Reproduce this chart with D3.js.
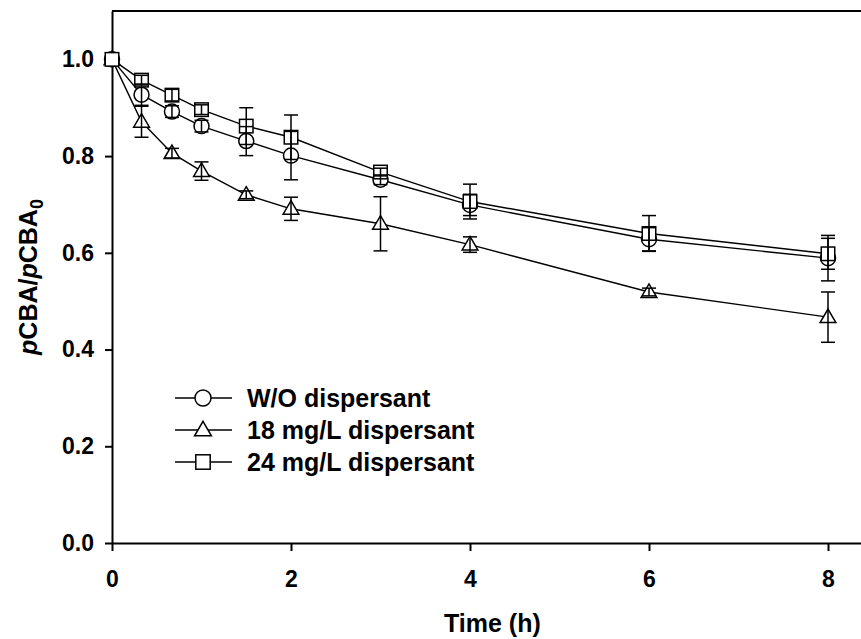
<!DOCTYPE html>
<html>
<head>
<meta charset="utf-8">
<script src="https://cdn.jsdelivr.net/npm/d3@7"></script>
<style>
  body { margin: 0; background: #fff; }
  svg { display: block; font-family: "Liberation Sans", Arial, sans-serif; }
  .axis text { font-size: 23px; font-weight: bold; fill: #000; }
  .axis path, .axis line { stroke: #000; stroke-width: 2px; }
</style>
</head>
<body>
<div id="chart"></div>
<script>
// time points (h)
var times = [0, 0.33, 0.67, 1, 1.5, 2, 3, 4, 6, 8];

// pCBA/pCBA0 per series, with error bar half widths
var woValues  = [1.0, 0.927, 0.892, 0.862, 0.831, 0.801, 0.751, 0.699, 0.628, 0.589];
var woErrors  = [0.0, 0.022, 0.012, 0.012, 0.030, 0.050, 0.010, 0.022, 0.024, 0.047];
var m18Values = [1.0, 0.871, 0.806, 0.769, 0.720, 0.691, 0.660, 0.617, 0.519, 0.467];
var m18Errors = [0.0, 0.032, 0.010, 0.019, 0.008, 0.024, 0.056, 0.016, 0.008, 0.052];
var m24Values = [1.0, 0.957, 0.926, 0.896, 0.862, 0.839, 0.767, 0.706, 0.640, 0.598];
var m24Errors = [0.0, 0.010, 0.012, 0.010, 0.038, 0.046, 0.008, 0.036, 0.037, 0.032];

var seriesNames = ["W/O dispersant", "18 mg/L dispersant", "24 mg/L dispersant"];
var seriesSymbols = ["circle", "triangle", "square"];

var xTicks = [0, 2, 4, 6, 8];
var yTicks = [0, 0.2, 0.4, 0.6, 0.8, 1.0];

var width = 861, height = 639;
var margin = {top: 11, left: 112, bottom: 96};

var svg = d3.select("#chart").append("svg")
    .attr("width", width)
    .attr("height", height);

//scale functions
var xScale = d3.scaleLinear()
    .domain([0, 8.5])
    .range([margin.left, margin.left + 8.5 * 89.5]);
var yScale = d3.scaleLinear()
    .domain([0, 1.1])
    .range([height - margin.bottom, margin.top]);

// frame (top and right), axes on left and bottom
svg.append("path")
    .attr("d", "M" + xScale(0) + "," + yScale(1.1) + " H" + xScale(8.5) + " V" + yScale(0))
    .attr("fill", "none")
    .attr("stroke", "#000")
    .attr("stroke-width", 2);

var xAxis = d3.axisBottom(xScale).tickValues(xTicks).tickSize(8).tickPadding(20).tickSizeOuter(0);
var yAxis = d3.axisLeft(yScale).tickValues(yTicks).tickSize(7).tickPadding(11).tickSizeOuter(0)
    .tickFormat(d3.format(".1f"));

svg.append("g")
    .attr("class", "axis")
    .attr("transform", "translate(0," + yScale(0) + ")")
    .call(xAxis);
svg.append("g")
    .attr("class", "axis")
    .attr("transform", "translate(" + xScale(0) + ",0)")
    .call(yAxis);

// axis titles
svg.append("text")
    .attr("x", (xScale(0) + xScale(8.5)) / 2)
    .attr("y", 632)
    .attr("text-anchor", "middle")
    .attr("font-size", 25)
    .attr("font-weight", "bold")
    .text("Time (h)");

var yTitle = svg.append("text")
    .attr("transform", "translate(37," + ((yScale(0) + yScale(1.1)) / 2) + ") rotate(-90)")
    .attr("text-anchor", "middle")
    .attr("font-size", 25)
    .attr("font-weight", "bold");
yTitle.append("tspan").attr("font-style", "italic").text("p");
yTitle.append("tspan").text("CBA/");
yTitle.append("tspan").attr("font-style", "italic").text("p");
yTitle.append("tspan").text("CBA");
yTitle.append("tspan").attr("font-size", 18).attr("dy", 6).text("0");

// symbol drawing
function drawSymbol(g, type, cx, cy, s) {
    if (type == "circle") {
        g.append("circle").attr("cx", cx).attr("cy", cy).attr("r", s);
    } else if (type == "square") {
        g.append("rect").attr("x", cx - s * 0.9).attr("y", cy - s * 0.9)
            .attr("width", s * 1.8).attr("height", s * 1.8);
    } else {
        var h = s * 1.8;
        g.append("path").attr("d", "M" + cx + "," + (cy - h * 0.6) +
            " L" + (cx + s * 1.05) + "," + (cy + h * 0.4) +
            " L" + (cx - s * 1.05) + "," + (cy + h * 0.4) + " Z");
    }
}

var series = [
    {name: seriesNames[0], symbol: seriesSymbols[0], values: woValues, errors: woErrors},
    {name: seriesNames[1], symbol: seriesSymbols[1], values: m18Values, errors: m18Errors},
    {name: seriesNames[2], symbol: seriesSymbols[2], values: m24Values, errors: m24Errors}
];

var line = d3.line()
    .x(function(d) { return xScale(d.t); })
    .y(function(d) { return yScale(d.v); });

series.forEach(function(s) {
    var pts = times.map(function(t, i) { return {t: t, v: s.values[i], e: s.errors[i]}; });
    svg.append("path")
        .datum(pts)
        .attr("d", line)
        .attr("fill", "none")
        .attr("stroke", "#000")
        .attr("stroke-width", 1.4);
});

series.forEach(function(s) {
    var g = svg.append("g")
        .attr("fill", "#fff")
        .attr("stroke", "#000")
        .attr("stroke-width", 1.5);
    times.forEach(function(t, i) {
        drawSymbol(g, s.symbol, xScale(t), yScale(s.values[i]), 7.5);
    });
});

// error bars on top
series.forEach(function(s) {
    var g = svg.append("g").attr("stroke", "#000").attr("stroke-width", 1.5);
    times.forEach(function(t, i) {
        var e = s.errors[i];
        if (e <= 0) return;
        var x = xScale(t), y1 = yScale(s.values[i] + e), y2 = yScale(s.values[i] - e);
        g.append("line").attr("x1", x).attr("x2", x).attr("y1", y1).attr("y2", y2);
        g.append("line").attr("x1", x - 7).attr("x2", x + 7).attr("y1", y1).attr("y2", y1);
        g.append("line").attr("x1", x - 7).attr("x2", x + 7).attr("y1", y2).attr("y2", y2);
    });
});

// legend
var legend = svg.append("g").attr("transform", "translate(175,398)");
series.forEach(function(s, i) {
    var row = legend.append("g").attr("transform", "translate(0," + (i * 32) + ")");
    row.append("line").attr("x1", 0).attr("x2", 57).attr("y1", 0).attr("y2", 0)
        .attr("stroke", "#000").attr("stroke-width", 1.4);
    var sg = row.append("g").attr("fill", "#fff").attr("stroke", "#000").attr("stroke-width", 1.5);
    drawSymbol(sg, s.symbol, 28, 0, 8);
    row.append("text")
        .attr("x", 72)
        .attr("y", 9)
        .attr("font-size", 25)
        .attr("font-weight", "bold")
        .text(s.name);
});
</script>
</body>
</html>
